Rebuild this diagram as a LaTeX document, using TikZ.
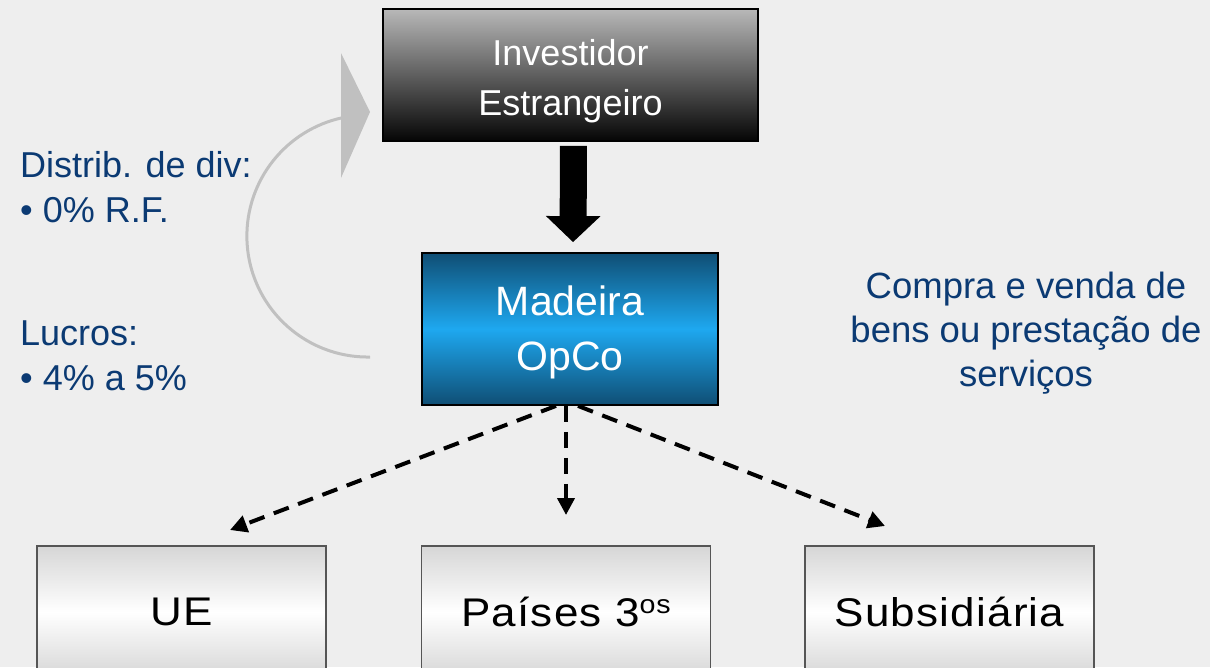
\documentclass[tikz,border=0pt]{standalone}
\usepackage{fontspec}
\setmainfont{Liberation Sans}
\usetikzlibrary{arrows.meta,calc}
\definecolor{bg}{HTML}{EEEEEE}
\definecolor{txtblue}{HTML}{0B3A73}
\definecolor{arcgray}{HTML}{C0C0C0}
\definecolor{invtop}{HTML}{B8B8B8}
\definecolor{invbot}{HTML}{050505}
\definecolor{madedge}{HTML}{0F4E74}
\definecolor{madmid}{HTML}{1EA8F0}
\definecolor{boxedge}{HTML}{D6D6D6}
\definecolor{boxline}{HTML}{555555}
\tikzset{
  sidetext/.style={anchor=base west, inner sep=0pt, text=txtblue, font=\fontsize{36}{44}\selectfont},
  invbox/.style={draw=black, line width=1.8pt, top color=invtop, bottom color=invbot,
    minimum width=375pt, minimum height=132pt, inner sep=0pt},
  invtext/.style={inner sep=0pt, align=center, text=white, font=\fontsize{36}{50}\selectfont},
  madbox/.style={draw=black, line width=1.8pt, top color=madedge, bottom color=madedge, middle color=madmid,
    minimum width=296pt, minimum height=152pt, inner sep=0pt},
  madtext/.style={inner sep=0pt, align=center, text=white, font=\fontsize{41}{55}\selectfont},
  destbox/.style={draw=boxline, line width=1.2pt, top color=boxedge, bottom color=boxedge, middle color=white,
    minimum width=289pt, minimum height=132pt, inner sep=0pt, text=black,
    font=\fontsize{40}{48}\selectfont\addfontfeature{FakeStretch=1.1,LetterSpace=3}},
  bigarrow/.style={draw=black, line width=27pt, -{Triangle[length=26pt,width=53pt]}},
  dasharrow/.style={draw=black, line width=4pt, dash pattern=on 16pt off 10pt, -{Triangle[length=17pt,width=17pt]}},
  curvearrow/.style={draw=arcgray, line width=3pt},
}
\begin{document}
\begin{tikzpicture}[x=1pt,y=-1pt]
\useasboundingbox (0,0) rectangle (1210,667);
\clip (0,0) rectangle (1210,667);
\fill[bg] (0,0) rectangle (1210,667);

% main boxes
\node[invbox] (inv) at (570.5,75) {};
\node[invtext] (invt) at ([yshift=-6pt]inv.center) {Investidor\\Estrangeiro};
\node[madbox] (mad) at (570,329) {};
\node[madtext] (madt) at ([yshift=-3pt]mad.center) {Madeira\\OpCo};

% destination boxes
\node[destbox] (ue)  at (181.5,612) {UE};
\node[destbox] (pai) at (566,612) {Países 3\raisebox{13pt}{\fontsize{26}{26}\selectfont os}};
\node[destbox] (sub) at (949.5,612) {Subsidiária};

% side texts
\node[sidetext] (d1) at (20,177) {Distrib. de div:};
\node[sidetext] (d2) at (20,222) {• 0\% R.F.};
\node[sidetext] (l1) at (20,345) {Lucros:};
\node[sidetext] (l2) at (20,390) {• 4\% a 5\%};
\node[anchor=center, inner sep=0pt, align=center, text=txtblue, font=\fontsize{36.5}{44}\selectfont]
  (cv) at (1026,333) {Compra e venda de\\bens ou prestação de\\serviços};

% big black arrow
\draw[bigarrow, shorten <=4pt, shorten >=10pt] ([xshift=3pt]inv.south) -- ([xshift=3pt]mad.north);

% dashed arrows
\coordinate (tL) at (230,530);
\coordinate (tM) at (566,515);
\coordinate (tR) at (885,526);
\draw[dasharrow] ([xshift=-14pt]mad.south) -- (tL);
\draw[dasharrow] ([xshift=-4pt]mad.south) -- (tM);
\draw[dasharrow] ([xshift=8pt]mad.south) -- (tR);

% curved grey arrow
\coordinate (arcS) at (370,357);
\draw[curvearrow] (arcS) arc[start angle=89, end angle=258, radius=121] coordinate (arcE);
\fill[arcgray] (341,53) -- (370,112) -- (341,178) -- cycle;
\end{tikzpicture}
\end{document}
